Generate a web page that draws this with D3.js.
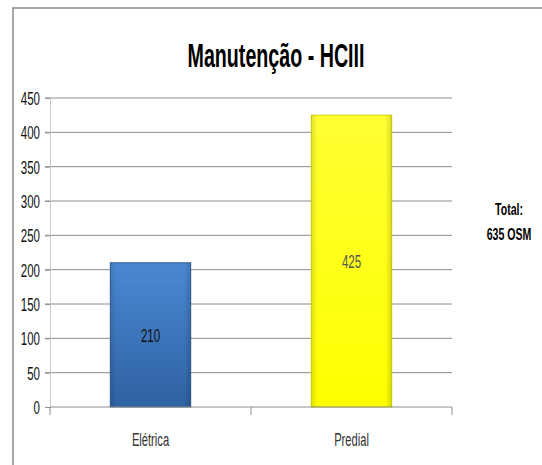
<!DOCTYPE html>
<html>
<head>
<meta charset="utf-8">
<script src="https://cdn.jsdelivr.net/npm/d3@7"></script>
<style>
  body { margin: 0; background: #fff; }
  svg { display: block; }
  text { font-family: "Liberation Sans", Arial, sans-serif; }
</style>
</head>
<body>
<svg id="chart"></svg>
<script>
const categories = ["Elétrica", "Predial"];
const values = [210, 425];
const yTicks = [0, 50, 100, 150, 200, 250, 300, 350, 400, 450];
const title = "Manutenção - HCIII";
const totalLines = ["Total:", "635 OSM"];

const width = 542;
const height = 465;
const svg = d3.select("#chart").attr("width", width).attr("height", height);

const margin = { top: 98, bottom: 58, left: 50, right: 90 };
const innerWidth = width - margin.left - margin.right;
const innerHeight = height - margin.top - margin.bottom;

// squeeze text horizontally to mimic the narrow chart font
const condense = (sel, k) =>
  sel.each(function () {
    const w = this.getComputedTextLength();
    d3.select(this).attr("textLength", w * k).attr("lengthAdjust", "spacingAndGlyphs");
  });

// outer frame (only top and left visible)
svg.append("path")
  .attr("d", `M13,${height} V8 H${width}`)
  .attr("fill", "none")
  .attr("stroke", "#8a8a8a")
  .attr("stroke-width", 1.5);

const defs = svg.append("defs");
const blue = defs.append("linearGradient").attr("id", "blueGrad")
  .attr("x1", 0).attr("y1", 0).attr("x2", 0).attr("y2", 1);
blue.append("stop").attr("offset", "0%").attr("stop-color", "#4a88d4");
blue.append("stop").attr("offset", "100%").attr("stop-color", "#2f62a2");
const edge = defs.append("linearGradient").attr("id", "edgeGrad")
  .attr("x1", 0).attr("y1", 0).attr("x2", 1).attr("y2", 0);
edge.append("stop").attr("offset", "0%").attr("stop-color", "#000").attr("stop-opacity", 0.12);
edge.append("stop").attr("offset", "8%").attr("stop-color", "#000").attr("stop-opacity", 0);
edge.append("stop").attr("offset", "92%").attr("stop-color", "#000").attr("stop-opacity", 0);
edge.append("stop").attr("offset", "100%").attr("stop-color", "#000").attr("stop-opacity", 0.15);
const yellow = defs.append("linearGradient").attr("id", "yellowGrad")
  .attr("x1", 0).attr("y1", 0).attr("x2", 0).attr("y2", 1);
yellow.append("stop").attr("offset", "0%").attr("stop-color", "#ffff33");
yellow.append("stop").attr("offset", "100%").attr("stop-color", "#ffff00");

const xScale = d3.scaleBand().domain(categories).range([0, innerWidth]).paddingInner(0.6).paddingOuter(0.3);
const yScale = d3.scaleLinear().domain([0, 450]).range([innerHeight, 0]);

const g = svg.append("g").attr("transform", `translate(${margin.left},${margin.top})`);

// gridlines
g.append("g")
  .selectAll("line")
  .data(yTicks.filter((d) => d > 0))
  .join("line")
  .attr("x1", -5)
  .attr("x2", innerWidth)
  .attr("y1", (d) => yScale(d))
  .attr("y2", (d) => yScale(d))
  .attr("stroke", "#8c8c8c")
  .attr("stroke-width", 1);

// y axis (labels squeezed with a scale transform)
const yk = 0.64;
const yAxis = d3.axisLeft(yScale).tickValues(yTicks).tickSize(5).tickPadding(5);
const yAxisG = g.append("g").call(yAxis);
yAxisG.select(".domain").attr("stroke", "#c8c8c8");
yAxisG.selectAll(".tick line").attr("stroke", "#8c8c8c");
yAxisG.selectAll("text")
  .attr("font-size", 18)
  .attr("fill", "#111")
  .attr("font-family", "'Liberation Sans', Arial, sans-serif")
  .attr("dy", "0.36em")
  .attr("x", -10 / yk)
  .attr("transform", `scale(${yk},1)`);

// bars
const fills = ["url(#blueGrad)", "url(#yellowGrad)"];
const strokes = ["#2d5a92", "#d8d800"];
g.selectAll(".bar")
  .data(values)
  .join("rect")
  .attr("class", "bar")
  .attr("x", (d, i) => xScale(categories[i]))
  .attr("width", xScale.bandwidth())
  .attr("y", (d) => yScale(d))
  .attr("height", (d) => innerHeight - yScale(d))
  .attr("fill", (d, i) => fills[i])
  .attr("stroke", (d, i) => strokes[i])
  .attr("stroke-width", 1);
g.selectAll(".bar-edge")
  .data(values)
  .join("rect")
  .attr("class", "bar-edge")
  .attr("x", (d, i) => xScale(categories[i]))
  .attr("width", xScale.bandwidth())
  .attr("y", (d) => yScale(d))
  .attr("height", (d) => innerHeight - yScale(d))
  .attr("fill", "url(#edgeGrad)");

// value labels
g.selectAll(".val")
  .data(values)
  .join("text")
  .attr("class", "val")
  .attr("x", (d, i) => xScale(categories[i]) + xScale.bandwidth() / 2)
  .attr("y", (d) => yScale(d / 2) + 7)
  .attr("text-anchor", "middle")
  .attr("font-size", 18)
  .attr("fill", (d, i) => (i === 0 ? "#111" : "#555"))
  .text((d) => d)
  .call(condense, 0.64);

// x axis
const xAxisG = g.append("g").attr("transform", `translate(0,${innerHeight})`);
xAxisG.append("line").attr("x1", 0).attr("x2", innerWidth).attr("stroke", "#8c8c8c");
xAxisG.selectAll(".xt")
  .data([0, innerWidth / 2, innerWidth])
  .join("line")
  .attr("x1", (d) => d).attr("x2", (d) => d)
  .attr("y1", 0).attr("y2", 8)
  .attr("stroke", "#8c8c8c");
xAxisG.selectAll(".xl")
  .data(categories)
  .join("text")
  .attr("x", (d) => xScale(d) + xScale.bandwidth() / 2)
  .attr("y", 39)
  .attr("text-anchor", "middle")
  .attr("font-size", 18)
  .attr("fill", "#333")
  .text((d) => d)
  .call(condense, 0.62);

// title
svg.append("text")
  .attr("x", 276)
  .attr("y", 67)
  .attr("text-anchor", "middle")
  .attr("font-size", 33)
  .attr("font-weight", "bold")
  .attr("fill", "#000")
  .attr("textLength", 177)
  .attr("lengthAdjust", "spacingAndGlyphs")
  .text(title);

// total note
svg.selectAll(".total")
  .data(totalLines)
  .join("text")
  .attr("class", "total")
  .attr("x", 509)
  .attr("y", (d, i) => 215 + i * 25)
  .attr("text-anchor", "middle")
  .attr("font-size", 16)
  .attr("font-weight", "bold")
  .attr("fill", "#000")
  .text((d) => d)
  .call(condense, 0.66);
</script>
</body>
</html>
